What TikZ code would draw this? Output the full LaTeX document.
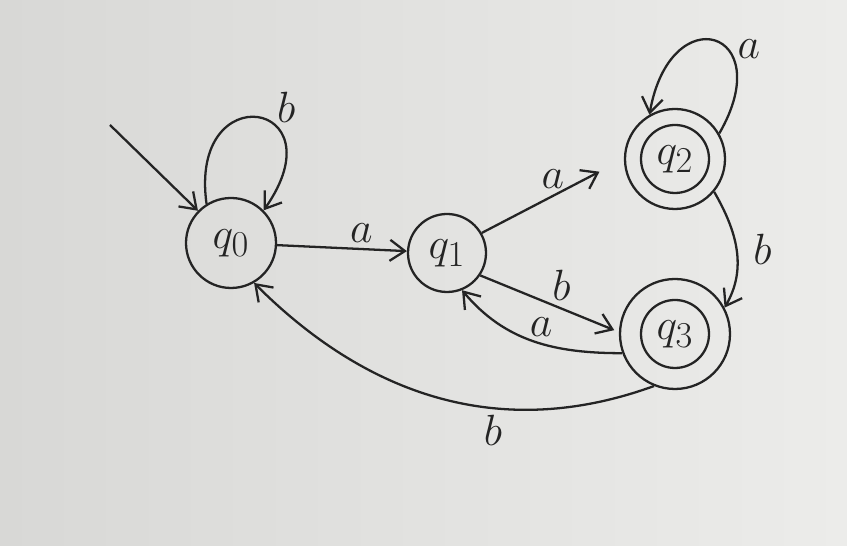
\documentclass[tikz,border=0pt]{standalone}
\usepackage{amsmath}
\usepackage{tikz}
\usetikzlibrary{arrows.meta}
\definecolor{paperL}{RGB}{216,216,214}
\definecolor{paperR}{RGB}{236,236,234}
\definecolor{ink}{RGB}{36,36,36}

\begin{document}
\begin{tikzpicture}[
  >={Straight Barb[length=3mm, width=4.2mm]},
  stnode/.style = {circle, draw = ink, line width = 1.3pt, minimum size = #1, inner sep = 0pt,
    text = ink, font = \fontsize{30}{34}\selectfont},
  accnode/.style 2 args = {stnode = #1,
    path picture = {\draw[ink, line width = 1.3pt] (path picture bounding box.center) circle (#2);}},
  arr/.style = {draw = ink, line width = 1.3pt, ->},
  lbl/.style = {text = ink, font = \fontsize{26}{30}\selectfont}
]
\shade[left color = paperL, right color = paperR] (0,0) rectangle (16.94,10.92);
\useasboundingbox (0,0) rectangle (16.94,10.92);

% states
\node[stnode = 1.8cm] (q0) at (4.62,6.06) {$q_0$};
\node[stnode = 1.56cm] (q1) at (8.94,5.86) {$q_1$};
\node[accnode = {2.0cm}{0.68cm}] (q2) at (13.5,7.74) {$q_2$};
\node[accnode = {2.2cm}{0.68cm}] (q3) at (13.5,4.24) {$q_3$};
\coordinate (start) at (2.2,8.42);

% transitions
\draw[arr] (start) -- (q0);
\draw[arr] (q0.122) .. controls +(98:2.6) and +(55:2.7) .. node[lbl, pos=0.62, above right, inner sep=1pt] {$b$} (q0.45);
\draw[arr] (q0) -- node[lbl, pos=0.65, above] {$a$} (q1);
\draw[arr, shorten >= 0.55cm] (q1.30) -- node[lbl, above, pos=0.5] {$a$} (q2.west);
\draw[arr, shorten >= 0.1cm] (q1.-34) -- node[lbl, above right, pos=0.5, inner sep=1pt] {$b$} (q3.178);
\draw[arr] (q3.200) to[out=180, in=-50] node[lbl, above, pos=0.45] {$a$} (q1.-68);
\draw[arr] (q2.30) .. controls +(60:2.4) and +(80:2.4) .. node[lbl, pos=0.3, above right, inner sep=1pt] {$a$} (q2.120);
\draw[arr] (q2.-40) to[out=-60, in=60] node[lbl, right, xshift=0.2cm] {$b$} (q3.28);
\draw[arr] (q3.248) to[out=200, in=-45] node[lbl, below, pos=0.37] {$b$} (q0.-60);
\end{tikzpicture}
\end{document}
